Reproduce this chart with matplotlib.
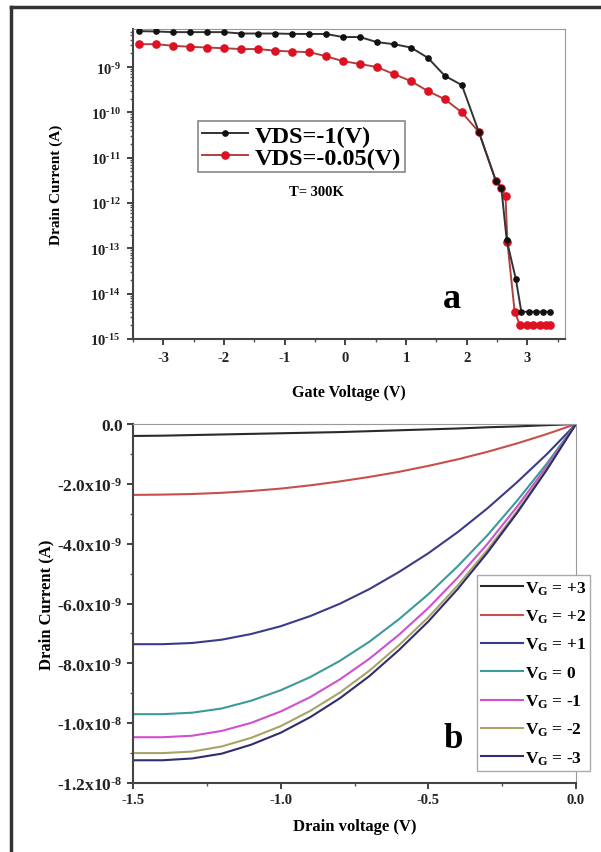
import matplotlib
matplotlib.use('Agg')
import matplotlib.pyplot as plt
from matplotlib.ticker import FixedLocator, FixedFormatter, LogLocator, NullFormatter, MultipleLocator

plt.rcParams['font.family'] = ['Liberation Serif', 'DejaVu Serif']
plt.rcParams['font.weight'] = 'bold'
plt.rcParams['mathtext.fontset'] = 'custom'
plt.rcParams['mathtext.rm'] = 'Liberation Serif:bold'
plt.rcParams['mathtext.bf'] = 'Liberation Serif:bold'
plt.rcParams['mathtext.it'] = 'Liberation Serif:bold'

HY = '\u2010'  # short hyphen inside mathtext

# ---- panel a: transfer curves (log scale)
vg_black = [-3.4, -3.12, -2.84, -2.56, -2.28, -2.0, -1.72, -1.44, -1.16, -0.88, -0.6, -0.32, -0.04,
            0.24, 0.52, 0.8, 1.08, 1.36, 1.64, 1.92, 2.2, 2.48, 2.57, 2.66, 2.81, 2.9, 3.02, 3.14, 3.26, 3.37]
id_black = [6.2e-9, 6.1e-9, 5.9e-9, 5.9e-9, 5.9e-9, 5.9e-9, 5.5e-9, 5.5e-9, 5.5e-9, 5.4e-9, 5.37e-9, 5.37e-9,
            4.6e-9, 4.6e-9, 3.55e-9, 3.2e-9, 2.7e-9, 1.6e-9, 6.4e-10, 4.0e-10, 3.7e-11, 3.1e-12, 2.2e-12,
            1.5e-13, 2.1e-14, 4.0e-15, 4.0e-15, 4.0e-15, 4.0e-15, 4.0e-15]
vg_red = [-3.4, -3.12, -2.84, -2.56, -2.28, -2.0, -1.72, -1.44, -1.16, -0.88, -0.6, -0.32, -0.04,
          0.24, 0.52, 0.8, 1.08, 1.36, 1.64, 1.92, 2.2, 2.48, 2.57, 2.64, 2.67, 2.79, 2.88, 3.0, 3.1, 3.2, 3.3, 3.37]
id_red = [3.2e-9, 3.2e-9, 2.95e-9, 2.8e-9, 2.7e-9, 2.6e-9, 2.5e-9, 2.5e-9, 2.3e-9, 2.2e-9, 2.14e-9, 1.74e-9,
          1.35e-9, 1.17e-9, 1.0e-9, 7.0e-10, 4.9e-10, 2.95e-10, 1.95e-10, 1.0e-10, 3.7e-11, 3.1e-12, 2.2e-12,
          1.4e-12, 1.4e-13, 4.0e-15, 2.0e-15, 2.0e-15, 2.0e-15, 2.0e-15, 2.0e-15, 2.0e-15]
labels_a = ['VDS=-1(V)', 'VDS=-0.05(V)']
decades_a = [15, 14, 13, 12, 11, 10, 9]

# ---- panel b: output curves, current in units of 1e-9 A
vd = [-1.5, -1.4, -1.3, -1.2, -1.1, -1.0, -0.9, -0.8, -0.7, -0.6, -0.5, -0.4, -0.3, -0.2, -0.1, 0.0]
id_vg = {
    '+3': [-0.40, -0.39, -0.37, -0.35, -0.33, -0.31, -0.29, -0.27, -0.24, -0.21, -0.18, -0.15, -0.11, -0.08, -0.04, 0],
    '+2': [-2.37, -2.36, -2.34, -2.30, -2.24, -2.16, -2.05, -1.92, -1.77, -1.60, -1.40, -1.18, -0.93, -0.65, -0.34, 0],
    '+1': [-7.36, -7.36, -7.32, -7.21, -7.02, -6.76, -6.42, -6.01, -5.52, -4.95, -4.32, -3.61, -2.82, -1.95, -1.02, 0],
    '0': [-9.70, -9.70, -9.65, -9.51, -9.25, -8.90, -8.46, -7.92, -7.28, -6.53, -5.69, -4.75, -3.72, -2.57, -1.34, 0],
    '-1': [-10.47, -10.47, -10.42, -10.26, -9.99, -9.61, -9.13, -8.54, -7.85, -7.05, -6.15, -5.13, -4.01, -2.77, -1.44, 0],
    '-2': [-11.0, -11.0, -10.95, -10.78, -10.49, -10.10, -9.59, -8.98, -8.25, -7.40, -6.46, -5.39, -4.21, -2.92, -1.52, 0],
    '-3': [-11.24, -11.24, -11.18, -11.02, -10.72, -10.32, -9.80, -9.17, -8.43, -7.56, -6.60, -5.51, -4.30, -2.98, -1.55, 0],
}
colors_b = {'+3': '#2a2a2a', '+2': '#c8504a', '+1': '#3b3b8a', '0': '#3c9a98',
            '-1': '#d050d0', '-2': '#a8a468', '-3': '#2e2e6e'}
yticks_b = [0, -2, -4, -6, -8, -10, -12]
ytick_mant_b = ['-2.0', '-4.0', '-6.0', '-8.0', '-1.0', '-1.2']
ytick_exp_b = [9, 9, 9, 9, 8, 8]

fig = plt.figure(figsize=(6.01, 8.53), dpi=100)

# outer frame (left and top edges)
fig.add_artist(plt.Line2D([11/601, 11/601], [0, 1 - 8/853], color='#333333', lw=2.5, transform=fig.transFigure))
fig.add_artist(plt.Line2D([11/601, 1], [1 - 8/853, 1 - 8/853], color='#333333', lw=2.5, transform=fig.transFigure))

ax1 = fig.add_axes([133/601, 1 - 340/853, 432/601, 310/853])
ax1.plot(vg_black, id_black, color='#333333', lw=1.4, marker='o', ms=3.8, mfc='#111111', mec='#111111',
         label=labels_a[0], zorder=3)
ax1.plot(vg_red, id_red, color='#b04040', lw=1.4, marker='o', ms=5.2, mfc='#dd1122', mec='#dd1122',
         label=labels_a[1], zorder=2)
ax1.set_yscale('log')
ax1.set_ylim(1e-15, 10**-8.16)
ax1.set_xlim(-3.5, 3.62)
ax1.yaxis.set_major_locator(FixedLocator([10.0**-d for d in decades_a]))
ax1.yaxis.set_major_formatter(FixedFormatter(['10$^{%s%d}$' % (HY, d) for d in decades_a]))
ax1.yaxis.set_minor_locator(LogLocator(base=10, subs=range(2, 10), numticks=20))
ax1.yaxis.set_minor_formatter(NullFormatter())
ax1.xaxis.set_minor_locator(MultipleLocator(0.5))
ax1.set_xticks([-3, -2, -1, 0, 1, 2, 3])
ax1.set_xticklabels(['-3', '-2', '-1', '0', '1', '2', '3'])
ax1.tick_params(axis='both', which='major', direction='out', length=4, width=1.2, labelsize=10.5,
                colors='#222222', pad=5)
ax1.tick_params(axis='both', which='minor', direction='out', length=2.5, width=1.0, colors='#555555')
for s in ['top', 'right']:
    ax1.spines[s].set_color('#999999')
for s in ['left', 'bottom']:
    ax1.spines[s].set_color('#444444')
    ax1.spines[s].set_linewidth(1.5)
ax1.set_xlabel('Gate Voltage (V)', fontsize=11.5, fontweight='bold', labelpad=14)
ax1.set_ylabel('Drain Current (A)', fontsize=11, fontweight='bold', labelpad=20)
ax1.text(452/601, 1 - 300/853, 'a', transform=fig.transFigure, fontsize=26, fontweight='bold',
         ha='center', va='center')
ax1.text(316/601, 1 - 193/853, 'T= 300K', transform=fig.transFigure, fontsize=10.5, fontweight='bold',
         ha='center', va='center')
leg1 = ax1.legend(loc='upper left', bbox_to_anchor=(198/601, 1 - 122/853), bbox_transform=fig.transFigure,
                  borderaxespad=0, fancybox=False, edgecolor='#888888', fontsize=17.5, handlelength=1.9,
                  handletextpad=0.3, labelspacing=0.0, borderpad=0.15, framealpha=1)
leg1.get_frame().set_linewidth(1.2)

ax2 = fig.add_axes([133/601, 1 - 784/853, 443/601, 359/853])
for key, ys in id_vg.items():
    ax2.plot(vd, ys, color=colors_b[key], lw=1.5, label='V$_{G}$ = ' + key)
ax2.set_xlim(-1.5, 0)
ax2.set_ylim(-12, 0)
ax2.set_yticks(yticks_b)
ax2.set_yticklabels(['0.0'] + ['%sx10$^{%s%d}$' % (m, HY, e) for m, e in zip(ytick_mant_b, ytick_exp_b)])
ax2.yaxis.set_minor_locator(MultipleLocator(1))
ax2.set_xticks([-1.5, -1.0, -0.5, 0.0])
ax2.set_xticklabels(['-1.5', '-1.0', '-0.5', '0.0'])
ax2.xaxis.set_minor_locator(MultipleLocator(0.25))
ax2.tick_params(axis='both', which='major', direction='out', length=4, width=1.2, colors='#222222')
ax2.tick_params(axis='y', which='major', labelsize=12.5)
ax2.tick_params(axis='x', which='major', labelsize=10.5)
ax2.tick_params(axis='both', which='minor', direction='out', length=2.5, width=1.0, colors='#555555')
for s in ['top', 'right']:
    ax2.spines[s].set_color('#999999')
for s in ['left', 'bottom']:
    ax2.spines[s].set_color('#444444')
    ax2.spines[s].set_linewidth(1.5)
ax2.set_xlabel('Drain voltage (V)', fontsize=12, fontweight='bold', labelpad=8)
ax2.set_ylabel('Drain Current (A)', fontsize=12, fontweight='bold', labelpad=2)
ax2.text(453/601, 1 - 740/853, 'b', transform=fig.transFigure, fontsize=25, fontweight='bold',
         ha='center', va='center')
leg2 = ax2.legend(loc='upper left', bbox_to_anchor=(477/601, 1 - 576/853), bbox_transform=fig.transFigure,
                  borderaxespad=0, fancybox=False, edgecolor='#aaaaaa', fontsize=12.5, handlelength=2.4,
                  handletextpad=0.1, labelspacing=0.63, borderpad=0.25, framealpha=1)
leg2.get_frame().set_linewidth(1.0)

fig.savefig('out.png', dpi=100)
